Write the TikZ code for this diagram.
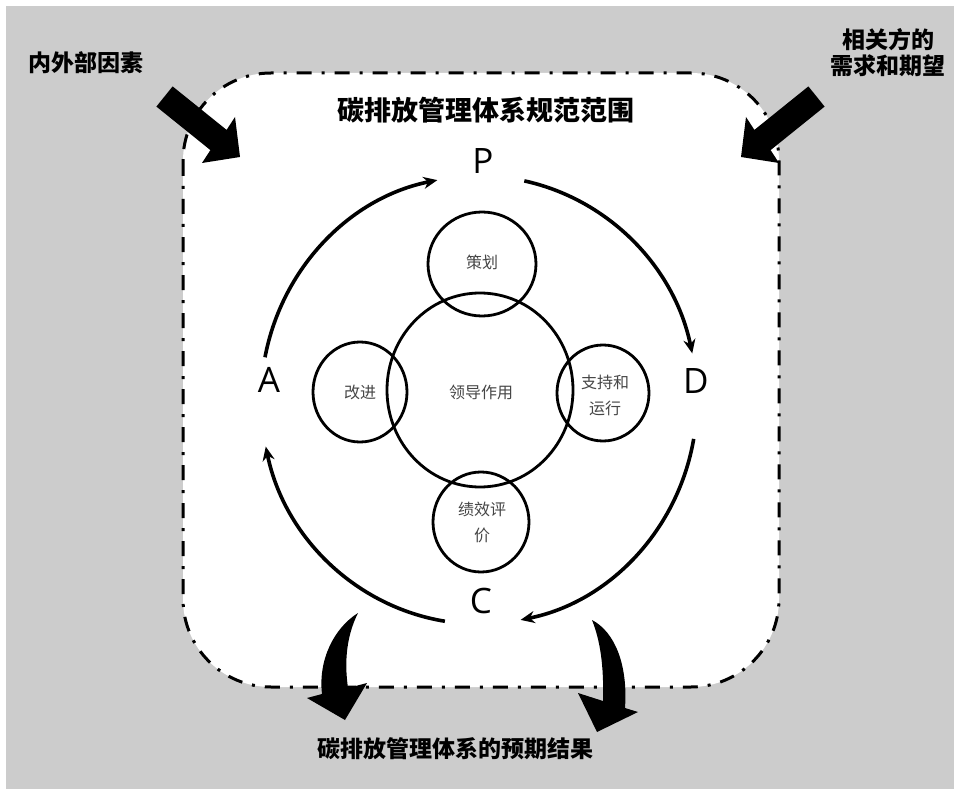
\documentclass[tikz,border=0pt]{standalone}
\usepackage{fontspec}
\newfontfamily\cjk{Noto Sans CJK SC}
\newfontfamily\latinf{Open Sans}
\usetikzlibrary{arrows.meta}
\definecolor{bggray}{RGB}{204,204,204}
\definecolor{txtgray}{RGB}{70,70,70}
\begin{document}
\begin{tikzpicture}[x=1pt,y=-1pt,
  border/.style={line width=3pt, fill=white, rounded corners=88pt,
    dash pattern=on 15pt off 10pt on 3pt off 10pt},
  bigtext/.style={font=\cjk\bfseries\fontsize{23}{27}\selectfont, text=black, align=center, inner sep=0pt},
  titletext/.style={font=\cjk\bfseries\fontsize{27}{30}\selectfont, text=black, inner sep=0pt},
  letter/.style={font=\latinf\fontsize{35}{38}\selectfont, inner sep=0pt},
  smalltext/.style={font=\cjk\fontsize{16}{26}\selectfont, text=txtgray, align=center, inner sep=0pt},
  ring/.style={draw=black, line width=2.8pt},
  cycarrow/.style={line width=3.6pt, -{Stealth[length=14pt,width=12pt]}},
  fatarrow/.style={fill=black, draw=none}
]
\useasboundingbox (0,0) rectangle (954,789);
\fill[white] (0,0) rectangle (954,789);
\fill[bggray] (6,6) rectangle (954,789);

% scope boundary
\draw[border] (183,73) rectangle (779,687);

% outer texts
\node[bigtext] (ext) at (86,63) {内外部因素};
\node[bigtext, align=center] (parties) at (888,53) {相关方的\\[-1pt]需求和期望};
\node[bigtext] (results) at (455,749) {碳排放管理体系的预期结果};
\node[titletext] (scope) at (486,110) {碳排放管理体系规范范围};

% thick input arrows
\fill[fatarrow] (172.6,86.4) -- (226.6,129.9) -- (235,117) -- (240,157) -- (202,163) -- (210.4,150.1) -- (156.4,106.6) -- cycle;
\fill[fatarrow] (808.4,86.4) -- (754.4,129.9) -- (746,117) -- (741,157) -- (779,163) -- (770.6,150.1) -- (824.6,106.6) -- cycle;

% curved output arrows
\fill[fatarrow] (358,613) .. controls (334,628) and (318,660) .. (322,694) -- (307,698) -- (345,720) -- (367,683) -- (348,688) .. controls (344,660) and (347,635) .. (358,613) -- cycle;
\fill[fatarrow] (592,620) .. controls (615,632) and (628,665) .. (625,708) -- (638,712) -- (597,732) -- (578,693) -- (603,701) .. controls (604,665) and (600,640) .. (592,620) -- cycle;

% PDCA letters
\node[letter] (P) at (483,161) {P};
\node[letter] (D) at (696,381) {D};
\node[letter] (A) at (269,380) {A};
\node[letter] (C) at (481,601) {C};

% cycle arcs
\coordinate (cyc) at (479,400);
\draw[cycarrow] (cyc) ++(-169:218 and 224) arc[start angle=-169, end angle=-101, x radius=218, y radius=224];
\draw[cycarrow] (cyc) ++(-78:218 and 224) arc[start angle=-78, end angle=-12, x radius=218, y radius=224];
\draw[cycarrow] (cyc) ++(10:218 and 224) arc[start angle=10, end angle=79, x radius=218, y radius=224];
\draw[cycarrow] (cyc) ++(99:218 and 224) arc[start angle=99, end angle=168, x radius=218, y radius=224];

% inner circles
\draw[ring] (480,390) ellipse[x radius=93, y radius=97];
\draw[ring] (482,264) ellipse[x radius=54, y radius=52];
\draw[ring] (360,392) ellipse[x radius=47, y radius=50];
\draw[ring] (603,393) ellipse[x radius=46, y radius=48];
\draw[ring] (481,522) ellipse[x radius=48, y radius=50];

% inner texts
\node[smalltext] (lead) at (481,392) {领导作用};
\node[smalltext] (plan) at (482,262) {策划};
\node[smalltext] (impr) at (360,392) {改进};
\node[smalltext] (supp) at (605,395) {支持和\\运行};
\node[smalltext] (perf) at (482,522) {绩效评\\价};
\end{tikzpicture}
\end{document}
